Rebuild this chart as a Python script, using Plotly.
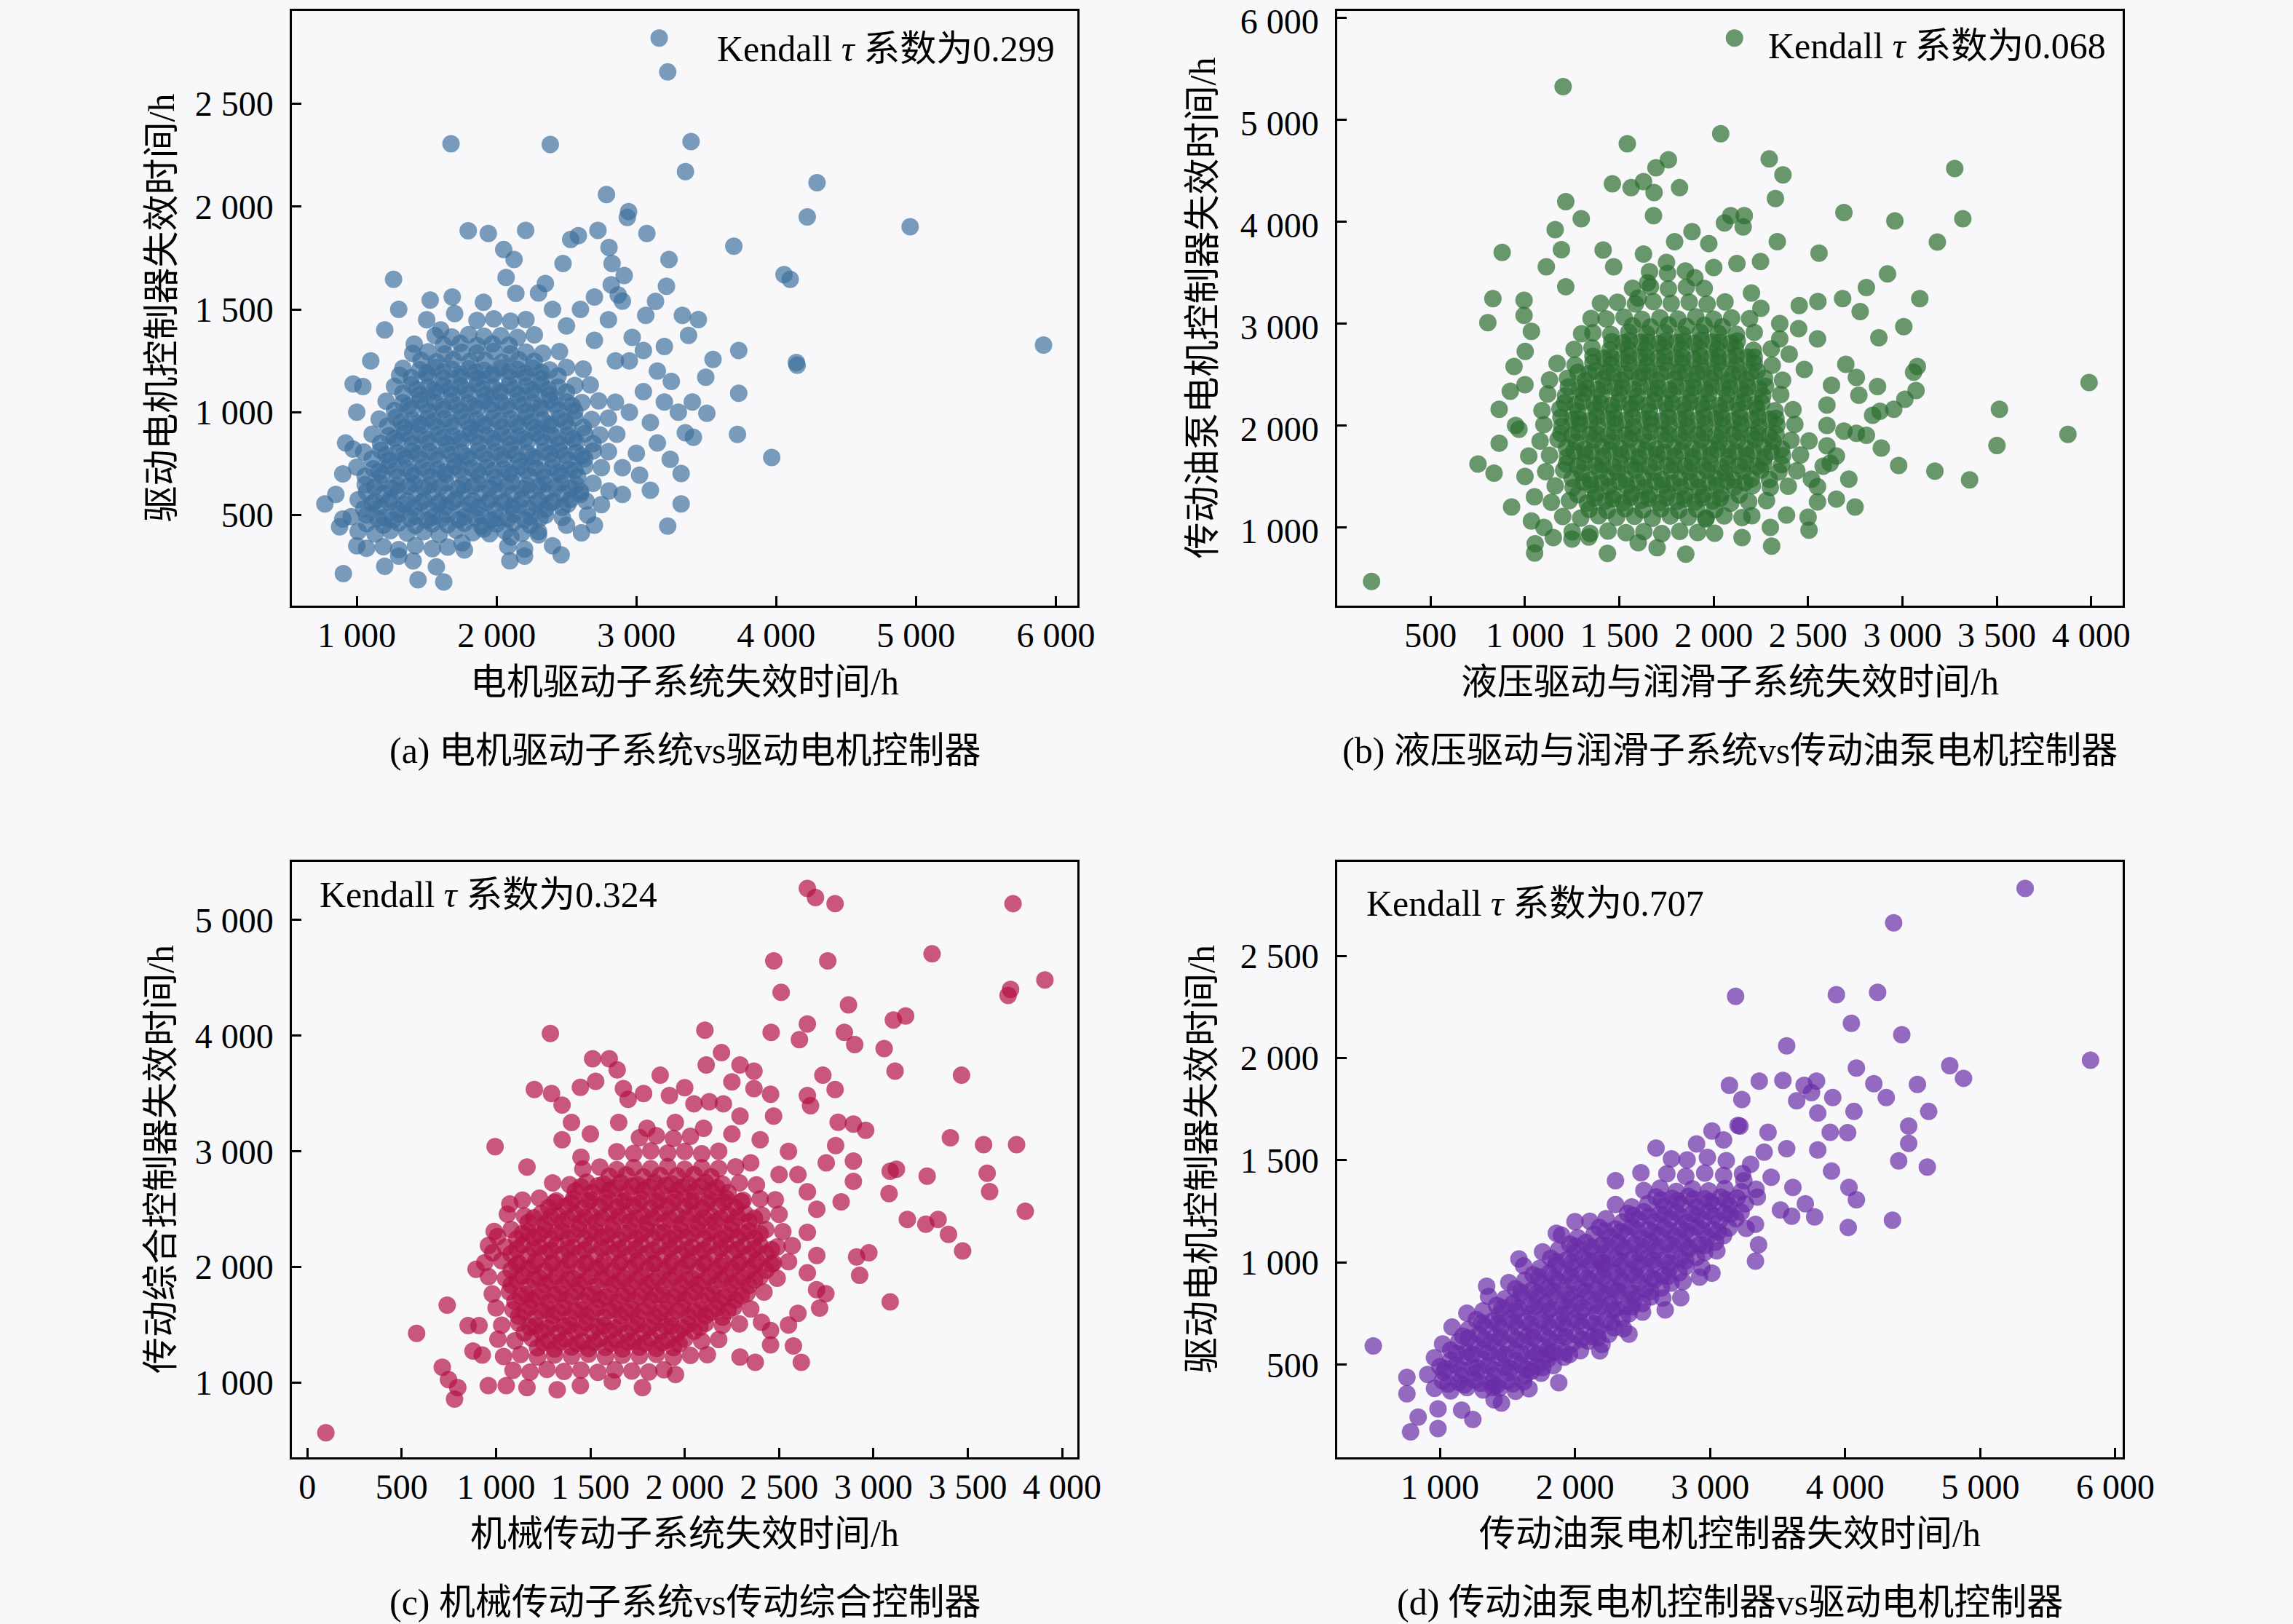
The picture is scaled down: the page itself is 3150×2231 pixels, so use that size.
import plotly.graph_objects as go

# ---------------- data ----------------
# (a) 电机驱动子系统 vs 驱动电机控制器
A_CORE = [
(1070,338),(1190,346),(1300,332),(1420,350),(1540,336),(1650,344),(1770,330),(2080,348),(2200,334),
(1010,420),(1130,408),(1240,424),(1360,412),(1480,418),(1590,405),(1710,426),(1830,414),(1950,409),(2060,422),(2180,411),(2300,419),
(960,492),(1070,500),(1190,487),(1300,505),(1420,494),(1540,489),(1650,502),(1770,491),(1890,498),(2000,486),(2120,503),(2240,493),(2350,499),(2470,488),
(1010,574),(1130,566),(1240,579),(1360,568),(1480,572),(1590,563),(1710,577),(1830,569),(1950,575),(2060,564),(2180,578),(2300,570),(2410,565),(2530,576),(2640,568),
(1060,648),(1170,655),(1290,644),(1410,652),(1520,646),(1640,657),(1760,645),(1870,653),(1990,649),(2110,658),(2220,643),(2340,651),(2460,656),(2570,647),(2690,654),
(1000,733),(1120,725),(1230,736),(1350,728),(1470,731),(1580,722),(1700,737),(1820,729),(1930,734),(2050,724),(2170,735),(2280,727),(2400,732),(2520,723),(2630,738),(2750,730),
(1050,806),(1170,814),(1290,803),(1400,811),(1520,808),(1640,816),(1750,804),(1870,812),(1990,807),(2100,815),(2220,802),(2340,810),(2450,813),(2570,805),(2690,811),(2800,808),
(1110,893),(1230,886),(1340,897),(1460,889),(1580,892),(1690,884),(1810,896),(1930,888),(2040,894),(2160,885),(2280,898),(2390,890),(2510,887),(2630,895),(2740,889),(2860,893),
(1160,966),(1280,974),(1400,963),(1510,971),(1630,968),(1750,976),(1860,964),(1980,972),(2100,967),(2210,975),(2330,962),(2450,970),(2560,973),(2680,965),(2800,971),
(1210,1053),(1330,1046),(1450,1057),(1560,1049),(1680,1052),(1800,1044),(1910,1056),(2030,1048),(2150,1054),(2260,1045),(2380,1058),(2500,1050),(2610,1047),(2730,1055),(2850,1049),
(1270,1126),(1390,1134),(1510,1123),(1620,1131),(1740,1128),(1860,1136),(1970,1124),(2090,1132),(2210,1127),(2320,1135),(2440,1122),(2560,1130),(2670,1133),
(1330,1213),(1450,1206),(1560,1217),(1680,1209),(1800,1212),(1910,1204),(2030,1216),(2150,1208),(2260,1214),(2380,1205),(2500,1218),(2620,1210),
(1400,1286),(1510,1294),(1630,1283),(1750,1291),(1860,1288),(1980,1296),(2100,1284),(2210,1292),(2330,1287),(2450,1295),
(1560,1373),(1680,1366),(1800,1377),(1910,1369),(2030,1372),(2150,1364),(2270,1376),
(1860,1446),(1980,1454),(2100,1443),(2210,1451),
]
A_DENSE = [
(1070,458),(1190,451),(1300,462),(1420,449),(1540,457),(1650,453),(1770,460),(1890,448),(2000,456),(2120,463),(2240,450),
(1050,530),(1170,538),(1290,527),(1410,535),(1520,529),(1640,540),(1760,531),(1870,536),(1990,526),(2110,539),(2230,532),(2350,528),(2470,537),
(1070,612),(1190,605),(1300,616),(1420,608),(1540,611),(1650,603),(1770,615),(1890,607),(2010,613),(2120,604),(2240,617),(2360,609),(2480,606),(2600,614),
(1060,688),(1180,695),(1290,684),(1410,692),(1530,686),(1640,697),(1760,689),(1880,693),(1990,683),(2110,696),(2230,690),(2340,685),(2460,694),(2580,687),
(1110,772),(1230,765),(1350,776),(1460,768),(1580,771),(1700,763),(1810,775),(1930,767),(2050,773),(2160,764),(2280,777),(2400,769),(2510,766),(2630,774),
(1170,848),(1290,855),(1400,844),(1520,852),(1640,846),(1750,857),(1870,849),(1990,853),(2100,843),(2220,856),(2340,850),(2450,845),(2570,854),(2690,847),
(1220,932),(1340,925),(1460,936),(1570,928),(1690,931),(1810,923),(1920,935),(2040,927),(2160,933),(2270,924),(2390,937),(2510,929),(2620,926),
(1270,1008),(1390,1015),(1510,1004),(1620,1012),(1740,1006),(1860,1017),(1970,1009),(2090,1013),(2210,1003),(2320,1016),(2440,1010),(2560,1005),
(1330,1092),(1450,1085),(1570,1096),(1680,1088),(1800,1091),(1920,1083),(2030,1095),(2150,1087),(2270,1093),(2380,1084),(2500,1097),
(1390,1168),(1510,1175),(1620,1164),(1740,1172),(1860,1166),(1970,1177),(2090,1169),(2210,1173),(2320,1163),(2440,1176),
(1460,1252),(1570,1245),(1690,1256),(1810,1248),(1920,1251),(2040,1243),(2160,1255),(2270,1247),
(1620,1328),(1740,1335),(1860,1324),(1970,1332),(2090,1326),
]
A_INNER = [
(1150,482),(1260,476),(1380,485),(1500,474),(1610,483),(1730,478),(1850,486),(1960,475),(2080,481),(2200,477),(2310,484),
(1110,556),(1230,562),(1340,551),(1460,559),(1580,554),(1690,563),(1810,552),(1930,558),(2040,561),(2160,550),(2280,557),(2390,560),(2510,553),
(1130,636),(1250,630),(1370,640),(1480,633),(1600,638),(1720,629),(1830,641),(1950,632),(2070,637),(2180,628),(2300,639),(2420,634),(2530,631),
(1160,712),(1280,718),(1390,707),(1510,715),(1630,709),(1740,720),(1860,711),(1980,716),(2090,706),(2210,719),(2330,713),(2440,708),(2560,717),
(1210,793),(1330,787),(1440,797),(1560,790),(1680,795),(1790,786),(1910,798),(2030,789),(2140,794),(2260,785),(2380,796),(2490,791),(2610,788),
(1270,873),(1390,879),(1500,868),(1620,876),(1740,870),(1850,881),(1970,872),(2090,877),(2200,867),(2320,880),(2440,874),(2550,869),
(1320,951),(1440,945),(1550,955),(1670,948),(1790,953),(1900,944),(2020,956),(2140,947),(2250,952),(2370,943),(2490,954),
(1370,1031),(1490,1037),(1610,1026),(1720,1034),(1840,1028),(1960,1039),(2070,1030),(2190,1035),(2310,1025),(2420,1038),(2540,1032),
(1430,1111),(1550,1105),(1670,1115),(1780,1108),(1900,1113),(2020,1104),(2130,1116),(2250,1107),(2370,1112),
(1500,1190),(1620,1196),(1740,1185),(1850,1193),(1970,1187),(2090,1198),(2200,1189),(2320,1194),
]
A_SPREAD = [
(3163,2820),(3224,2655),(1674,2306),(2384,2302),(3391,2316),(3351,2170),(4292,2116),(2786,2059),(2944,1976),(2935,1947),
(4222,1950),(4958,1902),(1797,1883),(1941,1869),(2208,1884),(2725,1884),(3075,1869),(3697,1807),(3233,1743),(4056,1669),
(4100,1646),(1263,1646),(3215,1613),(5912,1327),(3732,1300),(4144,1242),(4150,1228),(3732,1092),(3723,892),(3968,780),
(3320,702),(3320,554),(3224,446),(2462,306),(2095,277),(904,215),(1438,185),(1622,174),(1569,248),(1403,277),
(772,554),(877,442),(974,820),(974,1137),(1044,1125),(1306,1180),(1411,1331),(1525,1545),(1683,1560),(1906,1535),
(2051,1791),(2125,1743),(2585,1859),(2475,1723),(2804,1801),(2826,1723),(2913,1665),(2349,1626),(2068,1655),(2138,1578),
(3137,1539),(3067,1471),(3329,1471),(3443,1451),(3373,1374),(2970,1364),(3548,1257),(3496,1170),(3504,995),(3408,878),
(3242,771),(3023,694),(2804,617),(2651,500),(2607,413),(2300,403),(2103,393),(1753,364),(1906,432),
(2950,1000),(3050,1100),(3150,1200),(3250,1150),(3100,950),(3200,1050),(3300,1000),(3400,1050),(3350,900),(3150,850),
(3000,800),(2950,1250),(3050,1300),(3200,1320),(2700,1350),(2800,1450),(2600,1500),(2500,1420),(2400,1500),(2300,1580),
(2700,1560),(2900,1540),(2850,1250),(2900,730),(2900,600),(2750,550),(2600,600),(1200,1400),(1300,1500),(1500,1450),
(1700,1480),(1600,1400),(1100,1250),(1000,1000),(900,700),(920,850),(850,600),(900,480),(1000,350),(1200,250),
(1300,300),(2200,300),(2400,350),(2500,450),(2700,450),(3100,620),(2530,1840),(2820,1620),(2870,1570),
]

# (b) 液压驱动与润滑子系统 vs 传动油泵电机控制器
B_CORE = [
(1250,958),(1345,942),(1440,965),(1535,948),(1630,960),(1725,940),(1820,962),(1915,951),(2005,944),
(1200,1108),(1295,1092),(1390,1115),(1485,1098),(1580,1110),(1675,1090),(1770,1112),(1865,1101),(1960,1094),(2055,1113),(2150,1097),
(1140,1246),(1235,1262),(1330,1240),(1425,1257),(1520,1244),(1615,1265),(1710,1242),(1805,1255),(1900,1248),(1995,1260),(2090,1238),(2185,1252),(2280,1263),
(1160,1408),(1255,1392),(1350,1415),(1445,1398),(1540,1410),(1635,1390),(1730,1412),(1825,1401),(1920,1394),(2015,1413),(2110,1397),(2205,1409),(2300,1391),(2395,1404),
(1110,1546),(1205,1562),(1300,1540),(1395,1557),(1490,1544),(1585,1565),(1680,1542),(1775,1555),(1870,1548),(1965,1560),(2060,1538),(2155,1552),(2250,1563),(2345,1545),(2440,1556),
(1130,1708),(1225,1692),(1320,1715),(1415,1698),(1510,1710),(1605,1690),(1700,1712),(1795,1701),(1890,1694),(1985,1713),(2080,1697),(2175,1709),(2270,1691),(2365,1704),(2460,1711),
(1080,1846),(1175,1862),(1270,1840),(1365,1857),(1460,1844),(1555,1865),(1650,1842),(1745,1855),(1840,1848),(1935,1860),(2030,1838),(2125,1852),(2220,1863),(2315,1845),(2410,1856),(2505,1849),
(1100,2008),(1195,1992),(1290,2015),(1385,1998),(1480,2010),(1575,1990),(1670,2012),(1765,2001),(1860,1994),(1955,2013),(2050,1997),(2145,2009),(2240,1991),(2335,2004),(2430,2011),
(1090,2146),(1185,2162),(1280,2140),(1375,2157),(1470,2144),(1565,2165),(1660,2142),(1755,2155),(1850,2148),(1945,2160),(2040,2138),(2135,2152),(2230,2163),(2325,2145),(2420,2156),
(1120,2308),(1215,2292),(1310,2315),(1405,2298),(1500,2310),(1595,2290),(1690,2312),(1785,2301),(1880,2294),(1975,2313),(2070,2297),(2165,2309),(2260,2291),(2355,2304),
(1130,2446),(1225,2462),(1320,2440),(1415,2457),(1510,2444),(1605,2465),(1700,2442),(1795,2455),(1890,2448),(1985,2460),(2080,2438),(2175,2452),(2270,2463),(2365,2445),
(1170,2608),(1265,2592),(1360,2615),(1455,2598),(1550,2610),(1645,2590),(1740,2612),(1835,2601),(1930,2594),(2025,2613),(2120,2597),(2215,2609),(2310,2591),
(1260,2746),(1355,2762),(1450,2740),(1545,2757),(1640,2744),(1735,2765),(1830,2742),(1925,2755),(2020,2748),(2115,2760),(2210,2738),(2305,2752),
(1360,2908),(1455,2892),(1550,2915),(1645,2898),(1740,2910),(1835,2890),(1930,2912),(2025,2901),(2120,2894),(2215,2913),
(1430,3046),(1525,3062),(1620,3040),(1715,3057),(1810,3044),(1905,3065),(2000,3042),(2095,3055),(2190,3048),
(1490,3208),(1585,3192),(1680,3215),(1775,3198),(1870,3210),(1965,3190),(2060,3212),
(1570,3346),(1665,3362),(1760,3340),(1855,3357),(1950,3344),
(1660,3508),(1755,3492),(1850,3515),
]
B_DENSE = [
(1340,1178),(1435,1166),(1530,1185),(1625,1171),(1720,1182),(1815,1168),(1910,1180),(2005,1173),
(1280,1322),(1375,1334),(1470,1318),(1565,1330),(1660,1325),(1755,1337),(1850,1316),(1945,1328),(2040,1331),(2135,1320),
(1250,1478),(1345,1466),(1440,1485),(1535,1471),(1630,1482),(1725,1468),(1820,1480),(1915,1473),(2010,1484),(2105,1469),(2200,1477),(2295,1470),
(1220,1622),(1315,1634),(1410,1618),(1505,1630),(1600,1625),(1695,1637),(1790,1616),(1885,1628),(1980,1631),(2075,1620),(2170,1633),(2265,1624),(2360,1617),
(1220,1778),(1315,1766),(1410,1785),(1505,1771),(1600,1782),(1695,1768),(1790,1780),(1885,1773),(1980,1784),(2075,1769),(2170,1777),(2265,1783),(2360,1770),
(1190,1922),(1285,1934),(1380,1918),(1475,1930),(1570,1925),(1665,1937),(1760,1916),(1855,1928),(1950,1931),(2045,1920),(2140,1933),(2235,1924),(2330,1917),
(1190,2078),(1285,2066),(1380,2085),(1475,2071),(1570,2082),(1665,2068),(1760,2080),(1855,2073),(1950,2084),(2045,2069),(2140,2077),(2235,2083),(2330,2070),
(1210,2222),(1305,2234),(1400,2218),(1495,2230),(1590,2225),(1685,2237),(1780,2216),(1875,2228),(1970,2231),(2065,2220),(2160,2233),(2255,2224),
(1230,2378),(1325,2366),(1420,2385),(1515,2371),(1610,2382),(1705,2368),(1800,2380),(1895,2373),(1990,2384),(2085,2369),(2180,2377),(2275,2383),
(1280,2522),(1375,2534),(1470,2518),(1565,2530),(1660,2525),(1755,2537),(1850,2516),(1945,2528),(2040,2531),(2135,2520),(2230,2533),
(1360,2678),(1455,2666),(1550,2685),(1645,2671),(1740,2682),(1835,2668),(1930,2680),(2025,2673),(2120,2684),(2215,2669),
(1460,2822),(1555,2834),(1650,2818),(1745,2830),(1840,2825),(1935,2837),(2030,2816),(2125,2828),
(1570,2978),(1665,2966),(1760,2985),(1855,2971),(1950,2982),(2045,2968),
]
B_INNER = [
(1370,1290),(1465,1282),(1560,1297),(1655,1286),(1750,1294),(1845,1280),(1940,1292),(2035,1288),
(1310,1445),(1405,1438),(1500,1452),(1595,1441),(1690,1449),(1785,1435),(1880,1447),(1975,1443),(2070,1454),(2165,1439),
(1280,1600),(1375,1607),(1470,1593),(1565,1604),(1660,1596),(1755,1610),(1850,1598),(1945,1602),(2040,1591),(2135,1606),(2230,1599),
(1260,1750),(1355,1743),(1450,1757),(1545,1746),(1640,1754),(1735,1740),(1830,1752),(1925,1748),(2020,1759),(2115,1744),(2210,1751),(2305,1745),
(1250,1905),(1345,1912),(1440,1898),(1535,1909),(1630,1901),(1725,1915),(1820,1903),(1915,1907),(2010,1896),(2105,1911),(2200,1904),(2295,1900),
(1250,2055),(1345,2048),(1440,2062),(1535,2051),(1630,2059),(1725,2045),(1820,2057),(1915,2053),(2010,2064),(2105,2049),(2200,2056),(2295,2061),
(1270,2205),(1365,2212),(1460,2198),(1555,2209),(1650,2201),(1745,2215),(1840,2203),(1935,2207),(2030,2196),(2125,2211),(2220,2204),
(1290,2360),(1385,2353),(1480,2367),(1575,2356),(1670,2364),(1765,2350),(1860,2362),(1955,2358),(2050,2369),(2145,2354),(2240,2361),
(1340,2510),(1435,2517),(1530,2503),(1625,2514),(1720,2506),(1815,2520),(1910,2508),(2005,2512),(2100,2501),(2195,2516),
(1420,2660),(1515,2653),(1610,2667),(1705,2656),(1800,2664),(1895,2650),(1990,2662),(2085,2658),(2180,2669),
(1520,2810),(1615,2817),(1710,2803),(1805,2814),(1900,2806),(1995,2820),(2090,2808),
]
B_SPREAD = [
(2110,5800),(1202,5323),(2037,4861),(1542,4763),(1760,4606),(1694,4528),(2294,4614),(2367,4457),(3277,4520),(1463,4371),
(1562,4332),(1628,4391),(1684,4285),(1819,4332),(1216,4195),(2327,4226),(1298,4027),(1681,4058),(2690,4089),(2960,4007),
(3320,4027),(2090,4058),(2162,4058),(2057,3987),(2156,3948),(1160,3921),(1885,3901),(3185,3800),(879,3698),(1193,3725),
(1414,3721),(1628,3682),(1793,3803),(1974,3784),(2337,3803),(2558,3690),(1113,3557),(1470,3557),(2123,3588),(2248,3608),
(2921,3486),(1216,3361),(830,3244),(995,3228),(2809,3353),(3092,3244),(2683,3244),(2552,3216),(2453,3177),(2776,3118),
(803,3009),(3007,2969),(2875,2860),(995,3079),(1034,2922),(1001,2727),(942,2578),(3079,2578),(3059,2523),(3989,2421),
(2756,2472),(2868,2382),(2769,2296),(2624,2394),(3072,2343),(3013,2257),(2954,2159),(2881,2139),(2842,2100),(3514,2159),
(3501,1803),(3877,1912),(2690,1944),(2756,1924),(2809,1904),(2888,1779),(2980,1607),(3172,1552),(3356,1466),(2749,1200),
(2505,973),(2307,816),(2202,1114),(1852,738),(1437,745),(1051,749),(1054,840),(1034,1063),(929,1200),(836,1532),
(751,1622),(863,1826),(863,2159),(922,2335),(968,1963),(187,471),(1249,886),(1338,906),(1958,1082),(2386,1121),
(2650,1278),(2617,1630),(2716,1474),(2518,1474),
(2400,2700),(2480,2550),(2550,2850),(2350,3000),(2250,3150),(2200,3300),(1400,3200),(1350,3050),(1300,2900),(1650,3400),
(1900,3450),(2000,3550),(1750,3600),(1600,3250),(2600,2200),(2600,1800),(2580,1600),(2600,2000),(2550,1400),(1000,1500),
(1000,2400),(1020,1700),(950,2000),(1050,1300),(1100,1000),(1150,900),(2300,1000),(2150,900),(1600,850),(1700,800),
(2500,1100),(2550,1250),(2650,1700),(2700,2600),(2350,2850),(2450,2950),
]

# (c) 机械传动子系统 vs 传动综合控制器
C_CORE = [
(1090,1108),(1180,1092),(1270,1115),(1360,1098),(1450,1110),(1540,1090),(1630,1112),(1720,1101),(1810,1094),(1890,1113),
(1040,1228),(1130,1245),(1220,1222),(1310,1240),(1400,1230),(1490,1248),(1580,1225),(1670,1238),(1760,1232),(1850,1246),(1940,1221),(2030,1236),(2120,1243),
(1010,1377),(1100,1362),(1190,1384),(1280,1366),(1370,1379),(1460,1360),(1550,1381),(1640,1370),(1730,1363),(1820,1383),(1910,1367),(2000,1378),(2090,1361),(2180,1374),
(1030,1498),(1120,1515),(1210,1492),(1300,1510),(1390,1500),(1480,1518),(1570,1495),(1660,1508),(1750,1502),(1840,1516),(1930,1491),(2020,1506),(2110,1513),(2200,1497),(2290,1509),
(1000,1647),(1090,1632),(1180,1654),(1270,1636),(1360,1649),(1450,1630),(1540,1651),(1630,1640),(1720,1633),(1810,1653),(1900,1637),(1990,1648),(2080,1631),(2170,1644),(2260,1652),(2350,1638),
(980,1768),(1070,1785),(1160,1762),(1250,1780),(1340,1770),(1430,1788),(1520,1765),(1610,1778),(1700,1772),(1790,1786),(1880,1761),(1970,1776),(2060,1783),(2150,1767),(2240,1779),(2330,1771),(2420,1784),
(960,1917),(1050,1902),(1140,1924),(1230,1906),(1320,1919),(1410,1900),(1500,1921),(1590,1910),(1680,1903),(1770,1923),(1860,1907),(1950,1918),(2040,1901),(2130,1914),(2220,1922),(2310,1908),(2400,1916),(2490,1904),
(940,2038),(1030,2055),(1120,2032),(1210,2050),(1300,2040),(1390,2058),(1480,2035),(1570,2048),(1660,2042),(1750,2056),(1840,2031),(1930,2046),(2020,2053),(2110,2037),(2200,2049),(2290,2041),(2380,2054),(2470,2036),(2550,2047),
(960,2187),(1050,2172),(1140,2194),(1230,2176),(1320,2189),(1410,2170),(1500,2191),(1590,2180),(1680,2173),(1770,2193),(1860,2177),(1950,2188),(2040,2171),(2130,2184),(2220,2192),(2310,2178),(2400,2186),(2490,2174),(2570,2185),
(990,2308),(1080,2325),(1170,2302),(1260,2320),(1350,2310),(1440,2328),(1530,2305),(1620,2318),(1710,2312),(1800,2326),(1890,2301),(1980,2316),(2070,2323),(2160,2307),(2250,2319),(2340,2311),(2430,2324),(2520,2306),
(1060,2457),(1150,2442),(1240,2464),(1330,2446),(1420,2459),(1510,2440),(1600,2461),(1690,2450),(1780,2443),(1870,2463),(1960,2447),(2050,2458),(2140,2441),(2230,2454),(2320,2462),(2410,2448),(2500,2456),
(1140,2578),(1230,2595),(1320,2572),(1410,2590),(1500,2580),(1590,2598),(1680,2575),(1770,2588),(1860,2582),(1950,2596),(2040,2571),(2130,2586),(2220,2593),(2310,2577),(2400,2589),(2480,2581),
(1300,2727),(1390,2712),(1480,2734),(1570,2716),(1660,2729),(1750,2710),(1840,2731),(1930,2720),(2020,2713),(2110,2733),(2200,2717),(2290,2728),(2380,2711),
(1460,2848),(1550,2865),(1640,2842),(1730,2860),(1820,2850),(1910,2868),(2000,2845),(2090,2858),(2180,2852),(2270,2866),
(1640,2997),(1730,2982),(1820,3004),(1910,2986),(2000,2999),(2090,2980),(2180,3001),
(1760,3118),(1850,3135),(1940,3112),(2030,3130),
]
C_DENSE = [
(1220,1303),(1310,1292),(1400,1309),(1490,1296),(1580,1306),(1670,1294),(1760,1308),(1850,1298),(1940,1305),
(1150,1434),(1240,1445),(1330,1430),(1420,1441),(1510,1437),(1600,1448),(1690,1429),(1780,1440),(1870,1443),(1960,1432),(2050,1446),
(1120,1575),(1210,1564),(1300,1581),(1390,1568),(1480,1578),(1570,1566),(1660,1580),(1750,1570),(1840,1577),(1930,1563),(2020,1574),(2110,1579),(2200,1567),
(1100,1704),(1190,1715),(1280,1700),(1370,1711),(1460,1707),(1550,1718),(1640,1699),(1730,1710),(1820,1713),(1910,1702),(2000,1716),(2090,1706),(2180,1701),(2270,1714),
(1080,1845),(1170,1834),(1260,1851),(1350,1838),(1440,1848),(1530,1836),(1620,1850),(1710,1840),(1800,1847),(1890,1833),(1980,1844),(2070,1849),(2160,1837),(2250,1852),(2340,1841),
(1080,1974),(1170,1985),(1260,1970),(1350,1981),(1440,1977),(1530,1988),(1620,1969),(1710,1980),(1800,1983),(1890,1972),(1980,1986),(2070,1976),(2160,1971),(2250,1984),(2340,1979),(2430,1973),
(1080,2115),(1170,2104),(1260,2121),(1350,2108),(1440,2118),(1530,2106),(1620,2120),(1710,2110),(1800,2117),(1890,2103),(1980,2114),(2070,2119),(2160,2107),(2250,2122),(2340,2111),(2430,2116),
(1110,2244),(1200,2255),(1290,2240),(1380,2251),(1470,2247),(1560,2258),(1650,2239),(1740,2250),(1830,2253),(1920,2242),(2010,2256),(2100,2246),(2190,2241),(2280,2254),(2370,2249),
(1170,2385),(1260,2374),(1350,2391),(1440,2378),(1530,2388),(1620,2376),(1710,2390),(1800,2380),(1890,2387),(1980,2373),(2070,2384),(2160,2389),(2250,2377),(2340,2392),
(1280,2514),(1370,2525),(1460,2510),(1550,2521),(1640,2517),(1730,2528),(1820,2509),(1910,2520),(2000,2523),(2090,2512),(2180,2526),(2270,2516),
(1420,2655),(1510,2644),(1600,2661),(1690,2648),(1780,2658),(1870,2646),(1960,2660),(2050,2650),(2140,2657),(2230,2643),
(1600,2784),(1690,2795),(1780,2780),(1870,2791),(1960,2787),(2050,2798),(2140,2779),
]
C_INNER = [
(1250,1345),(1340,1352),(1430,1339),(1520,1349),(1610,1342),(1700,1355),(1790,1344),(1880,1348),(1970,1338),
(1180,1480),(1270,1473),(1360,1487),(1450,1476),(1540,1484),(1630,1471),(1720,1482),(1810,1478),(1900,1489),(1990,1474),(2080,1481),
(1150,1615),(1240,1622),(1330,1608),(1420,1619),(1510,1611),(1600,1625),(1690,1613),(1780,1617),(1870,1606),(1960,1621),(2050,1614),(2140,1609),(2230,1623),
(1130,1750),(1220,1743),(1310,1757),(1400,1746),(1490,1754),(1580,1740),(1670,1752),(1760,1748),(1850,1759),(1940,1744),(2030,1751),(2120,1756),(2210,1741),(2300,1753),
(1110,1885),(1200,1892),(1290,1878),(1380,1889),(1470,1881),(1560,1895),(1650,1883),(1740,1887),(1830,1876),(1920,1891),(2010,1884),(2100,1879),(2190,1893),(2280,1882),(2370,1888),
(1110,2020),(1200,2013),(1290,2027),(1380,2016),(1470,2024),(1560,2010),(1650,2022),(1740,2018),(1830,2029),(1920,2014),(2010,2021),(2100,2026),(2190,2011),(2280,2023),(2370,2017),(2460,2025),
(1110,2155),(1200,2162),(1290,2148),(1380,2159),(1470,2151),(1560,2165),(1650,2153),(1740,2157),(1830,2146),(1920,2161),(2010,2154),(2100,2149),(2190,2163),(2280,2152),(2370,2158),(2460,2150),
(1140,2290),(1230,2283),(1320,2297),(1410,2286),(1500,2294),(1590,2280),(1680,2292),(1770,2288),(1860,2299),(1950,2284),(2040,2291),(2130,2296),(2220,2281),(2310,2293),(2400,2287),
(1200,2425),(1290,2432),(1380,2418),(1470,2429),(1560,2421),(1650,2435),(1740,2423),(1830,2427),(1920,2416),(2010,2431),(2100,2424),(2190,2419),(2280,2433),(2370,2422),
(1310,2560),(1400,2553),(1490,2567),(1580,2556),(1670,2564),(1760,2550),(1850,2562),(1940,2558),(2030,2569),(2120,2554),(2210,2561),(2300,2566),
(1450,2695),(1540,2702),(1630,2688),(1720,2699),(1810,2691),(1900,2705),(1990,2693),(2080,2697),(2170,2686),
]
C_SPREAD = [
(98,569),(579,1427),(741,1671),(715,1134),(748,1028),(797,958),(780,859),(995,3041),(1164,2864),(1073,2546),
(1288,4019),(1203,3535),(1294,3500),(1512,3800),(1600,3800),(1642,3704),(1447,3553),(1528,3606),(1675,3542),(1782,3500),
(1870,3658),(1919,3482),(2107,4047),(2114,3747),(2195,3853),(2293,3747),(2367,3694),(2367,3542),(2455,3493),(2049,3411),
(2130,3429),(2205,3411),(2293,3305),(2471,3305),(2458,4029),(2472,4647),(2511,4375),(2650,5272),(2693,5194),(2797,5141),
(2758,4647),(2650,4100),(2608,3966),(2868,4266),(2846,4029),(2901,3923),(3057,3888),(3106,4135),(3171,4170),(3115,3694),
(2732,3658),(2797,3535),(2650,3482),(2667,3394),(3311,4707),(3740,5141),(3727,4400),(3714,4347),(3909,4481),(3467,3658),
(3408,3118),(3584,3058),(3759,3058),(3603,2811),(3616,2652),(3805,2483),(3285,2786),(3089,2829),(3122,2846),(3083,2635),
(3180,2412),(3278,2370),(3343,2412),(3398,2282),(3473,2140),(3089,1699),(2927,1929),(2976,2123),(2911,2087),(2813,3252),
(2894,3235),(2959,3182),(2894,2917),(2894,2741),(2829,2564),(2699,1805),(2748,1770),(2715,1646),(2618,1177),(2576,1318),
(2455,1328),(2374,1177),(2293,1222),(2407,1523),(2455,1452),(1951,1071),(1776,958),(1616,1011),(1447,975),(1324,940),
(1164,958),(1054,975),(959,975),(878,1275),(927,1240),(852,1494),(910,1494),(894,1981),(1008,2264),(982,2123),
(1400,3250),(1500,3150),(1350,3100),(1450,2950),(1650,3250),(1800,3200),(1950,3250),(2100,3200),(2250,3150),(2400,3100),
(2550,3000),(2600,2800),(2650,2650),(2700,2500),(2650,2300),(2700,2100),(2650,1950),(2600,1600),(2550,1500),(2750,2900),
(2800,3050),(2500,2800),(2350,2900),(1350,3400),(1700,3450),(2000,3550),(2250,3600),
]

# (d) 传动油泵电机控制器 vs 驱动电机控制器
D_CORE = [
(960,384),(1080,372),(1200,388),(1320,376),(1440,385),(1560,370),(1660,383),
(910,452),(1030,464),(1150,448),(1270,460),(1390,450),(1510,462),(1630,447),(1750,458),
(960,534),(1080,522),(1200,538),(1320,526),(1440,535),(1560,520),(1680,533),(1800,528),(1920,537),
(1020,602),(1140,614),(1260,598),(1380,610),(1500,600),(1620,612),(1740,597),(1860,608),(1980,603),(2100,615),(2200,599),
(1090,684),(1210,672),(1330,688),(1450,676),(1570,685),(1690,670),(1810,683),(1930,678),(2050,687),(2170,673),(2290,681),(2360,676),
(1200,752),(1320,764),(1440,748),(1560,760),(1680,750),(1800,762),(1920,747),(2040,758),(2160,753),(2280,765),(2400,749),(2500,757),
(1360,834),(1480,822),(1600,838),(1720,826),(1840,835),(1960,820),(2080,833),(2200,828),(2320,837),(2440,823),(2560,831),(2650,826),
(1510,902),(1630,914),(1750,898),(1870,910),(1990,900),(2110,912),(2230,897),(2350,908),(2470,903),(2590,915),(2710,899),(2800,907),
(1620,984),(1740,972),(1860,988),(1980,976),(2100,985),(2220,970),(2340,983),(2460,978),(2580,987),(2700,973),(2820,981),(2940,976),
(1760,1052),(1880,1064),(2000,1048),(2120,1060),(2240,1050),(2360,1062),(2480,1047),(2600,1058),(2720,1053),(2840,1065),(2960,1049),(3050,1057),
(1900,1134),(2020,1122),(2140,1138),(2260,1126),(2380,1135),(2500,1120),(2620,1133),(2740,1128),(2860,1137),(2980,1123),(3100,1131),
(2110,1202),(2230,1214),(2350,1198),(2470,1210),(2590,1200),(2710,1212),(2830,1197),(2950,1208),(3070,1203),(3190,1215),
(2300,1284),(2420,1272),(2540,1288),(2660,1276),(2780,1285),(2900,1270),(3020,1283),(3140,1278),(3260,1287),
(2510,1352),(2630,1364),(2750,1348),(2870,1360),(2990,1350),(3110,1362),(3230,1347),(3340,1358),
(2680,1434),(2820,1422),(2960,1438),(3100,1426),(3240,1435),
(2830,1502),(2980,1514),(3120,1498),
]
D_DENSE = [
(1020,421),(1140,414),(1260,424),(1380,412),(1500,420),(1620,416),
(1000,490),(1120,498),(1240,487),(1360,495),(1480,489),(1600,500),(1720,492),(1840,496),
(1080,571),(1200,564),(1320,574),(1440,562),(1560,570),(1680,566),(1800,573),(1920,561),(2040,569),
(1170,640),(1290,648),(1410,637),(1530,645),(1650,639),(1770,650),(1890,642),(2010,646),(2130,636),(2250,649),
(1270,721),(1390,714),(1510,724),(1630,712),(1750,720),(1870,716),(1990,723),(2110,711),(2230,719),(2350,725),
(1420,790),(1540,798),(1660,787),(1780,795),(1900,789),(2020,800),(2140,792),(2260,796),(2380,786),(2500,799),
(1560,871),(1680,864),(1800,874),(1920,862),(2040,870),(2160,866),(2280,873),(2400,861),(2520,869),(2640,875),
(1690,940),(1810,948),(1930,937),(2050,945),(2170,939),(2290,950),(2410,942),(2530,946),(2650,936),(2770,949),
(1820,1021),(1940,1014),(2060,1024),(2180,1012),(2300,1020),(2420,1016),(2540,1023),(2660,1011),(2780,1019),(2900,1025),
(1960,1090),(2080,1098),(2200,1087),(2320,1095),(2440,1089),(2560,1100),(2680,1092),(2800,1096),(2920,1086),(3040,1099),
(2180,1171),(2300,1164),(2420,1174),(2540,1162),(2660,1170),(2780,1166),(2900,1173),(3020,1161),(3140,1169),
(2390,1240),(2510,1248),(2630,1237),(2750,1245),(2870,1239),(2990,1250),(3110,1242),(3230,1246),
(2600,1321),(2720,1314),(2840,1324),(2960,1312),(3080,1320),(3200,1316),
]
D_INNER = [
(1060,405),(1180,401),(1300,409),(1420,399),(1540,407),
(1040,480),(1160,476),(1280,484),(1400,474),(1520,482),(1640,478),(1760,486),
(1120,555),(1240,551),(1360,559),(1480,549),(1600,557),(1720,553),(1840,561),(1960,550),
(1210,630),(1330,626),(1450,634),(1570,624),(1690,632),(1810,628),(1930,636),(2050,625),(2170,633),
(1310,705),(1430,701),(1550,709),(1670,699),(1790,707),(1910,703),(2030,711),(2150,700),(2270,708),
(1460,780),(1580,776),(1700,784),(1820,774),(1940,782),(2060,778),(2180,786),(2300,775),(2420,783),
(1600,855),(1720,851),(1840,859),(1960,849),(2080,857),(2200,853),(2320,861),(2440,850),(2560,858),
(1730,930),(1850,926),(1970,934),(2090,924),(2210,932),(2330,928),(2450,936),(2570,925),(2690,933),
(1860,1005),(1980,1001),(2100,1009),(2220,999),(2340,1007),(2460,1003),(2580,1011),(2700,1000),(2820,1008),
(2000,1080),(2120,1076),(2240,1084),(2360,1074),(2480,1082),(2600,1078),(2720,1086),(2840,1075),(2960,1083),
(2220,1155),(2340,1151),(2460,1159),(2580,1149),(2700,1157),(2820,1153),(2940,1161),(3060,1150),
(2430,1230),(2550,1226),(2670,1234),(2790,1224),(2910,1232),(3030,1228),(3150,1236),
(2640,1305),(2760,1301),(2880,1309),(3000,1299),(3120,1307),
]
D_SPREAD = [
(5332,2830),(4359,2662),(3189,2302),(3935,2310),(4240,2322),(4046,2170),(4419,2114),(3567,2060),(5816,1990),(4774,1963),
(4876,1901),(4083,1951),(4212,1875),(4304,1807),(4535,1871),(4618,1739),(4065,1739),(3143,1867),(3235,1797),(3364,1887),
(3539,1891),(3696,1867),(3788,1887),(3751,1831),(3641,1791),(3908,1807),(3797,1731),(4470,1667),(4470,1583),(3889,1637),
(4018,1635),(4396,1497),(4608,1467),(3899,1447),(3797,1551),(4028,1367),(4083,1307),(4350,1207),(4023,1171),(3774,1223),
(3604,1227),(3521,1257),(3705,1287),(3613,1367),(3452,1417),(3567,1557),(3429,1637),(3221,1667),(3014,1643),(3207,1671),
(2714,1507),(2488,1439),(1862,1143),(1585,1017),(1346,884),(507,592),(756,438),(756,358),(839,244),(783,172),
(986,284),(986,188),(1161,278),(1244,232),(1401,328),(1456,312),(3336,1007),(3359,1087),(3014,948),(3267,1167),
(3336,1187),(2184,568),(1880,412),(1677,468),(1392,388),(2668,768),(2783,828),(2922,928),(3300,1480),(3400,1540),
(3350,1320),(3250,1400),(2900,1580),(3100,1600),(2600,1560),(2200,1000),(2000,1200),(2300,1400),(1800,550),(2400,650),
]

X_TICKS = {
    "a": [1000, 2000, 3000, 4000, 5000, 6000],
    "b": [500, 1000, 1500, 2000, 2500, 3000, 3500, 4000],
    "c": [0, 500, 1000, 1500, 2000, 2500, 3000, 3500, 4000],
    "d": [1000, 2000, 3000, 4000, 5000, 6000],
}
Y_TICKS = {
    "a": [500, 1000, 1500, 2000, 2500],
    "b": [1000, 2000, 3000, 4000, 5000, 6000],
    "c": [1000, 2000, 3000, 4000, 5000],
    "d": [500, 1000, 1500, 2000, 2500],
}
X_TITLES = ["电机驱动子系统失效时间/h", "液压驱动与润滑子系统失效时间/h",
            "机械传动子系统失效时间/h", "传动油泵电机控制器失效时间/h"]
Y_TITLES = ["驱动电机控制器失效时间/h", "传动油泵电机控制器失效时间/h",
            "传动综合控制器失效时间/h", "驱动电机控制器失效时间/h"]
CAPTIONS = ["(a) 电机驱动子系统vs驱动电机控制器", "(b) 液压驱动与润滑子系统vs传动油泵电机控制器",
            "(c) 机械传动子系统vs传动综合控制器", "(d) 传动油泵电机控制器vs驱动电机控制器"]
KENDALL = ["0.299", "0.068", "0.324", "0.707"]


def fmt(v):
    return f"{v:,}".replace(",", " ")


FONT = "Liberation Serif, Noto Sans CJK SC, serif"
W, H = 3150, 2231

panels = [
    dict(key="a", pts=A_SPREAD + A_CORE + A_DENSE + A_INNER, color="#3d6f9c", op=0.68,
         dx=(401, 1480), dy=(15, 832), xr=(536, 6154), yr=(59, 2952),
         ytx=221, kx=1451, ky=67, kanchor="right", yshift=0),
    dict(key="b", pts=B_SPREAD + B_CORE + B_DENSE + B_INNER, color="#2b6e2f", op=0.7,
         dx=(1837, 2916), dy=(15, 832), xr=(5, 4167), yr=(233, 6066),
         ytx=1651, kx=2895, ky=63, kanchor="right", yshift=5),
    dict(key="c", pts=C_SPREAD + C_CORE + C_DENSE + C_INNER, color="#b31245", op=0.7,
         dx=(401, 1480), dy=(1184, 2002), xr=(-82, 4081), yr=(356, 5502),
         ytx=221, kx=437, ky=1229, kanchor="left", yshift=0),
    dict(key="d", pts=D_SPREAD + D_CORE + D_DENSE + D_INNER, color="#6a2ca6", op=0.7,
         dx=(1837, 2916), dy=(1184, 2002), xr=(240, 6054), yr=(47, 2960),
         ytx=1651, kx=1875, ky=1241, kanchor="left", yshift=0),
]

fig = go.Figure()
annotations = []
for i, p in enumerate(panels):
    n = "" if i == 0 else str(i + 1)
    xs = [q[0] for q in p["pts"]]
    ys = [q[1] for q in p["pts"]]
    fig.add_trace(go.Scatter(
        x=xs, y=ys, mode="markers", xaxis="x" + n, yaxis="y" + n,
        marker=dict(size=24, color=p["color"], opacity=p["op"], line=dict(width=0)),
        showlegend=False, hoverinfo="skip"))
    common = dict(showline=True, linecolor="black", linewidth=2.5, mirror=True,
                  ticks="inside", ticklen=13, tickwidth=2.5, tickcolor="black",
                  showgrid=False, zeroline=False, ticklabeloverflow="allow",
                  automargin=False,
                  tickfont=dict(family=FONT, size=48, color="black"))
    xd = [p["dx"][0] / W, p["dx"][1] / W]
    yd = [1 - p["dy"][1] / H, 1 - p["dy"][0] / H]
    fig.update_layout(**{
        "xaxis" + n: dict(domain=xd, range=list(p["xr"]), anchor="y" + n,
                          tickvals=X_TICKS[p["key"]], ticktext=[fmt(v) for v in X_TICKS[p["key"]]],
                          ticklabelstandoff=-3, **common),
        "yaxis" + n: dict(domain=yd, range=list(p["yr"]), anchor="x" + n,
                          tickvals=Y_TICKS[p["key"]], ticktext=[fmt(v) for v in Y_TICKS[p["key"]]],
                          ticklabelstandoff=13, ticklabelshift=p["yshift"], **common),
    })
    cx = (p["dx"][0] + p["dx"][1]) / 2 / W
    cy = (p["dy"][0] + p["dy"][1]) / 2
    bottom = p["dy"][1]
    tf = dict(family=FONT, size=50, color="black")
    annotations += [
        dict(text=X_TITLES[i], x=cx, y=1 - (bottom + 105) / H, xref="paper", yref="paper",
             xanchor="center", yanchor="middle", showarrow=False, font=tf),
        dict(text=CAPTIONS[i], x=cx, y=1 - (bottom + 199) / H, xref="paper", yref="paper",
             xanchor="center", yanchor="middle", showarrow=False, font=tf),
        dict(text=Y_TITLES[i], x=p["ytx"] / W, y=1 - cy / H, xref="paper", yref="paper",
             xanchor="center", yanchor="middle", textangle=-90, showarrow=False, font=tf),
        dict(text="Kendall <i>τ</i> 系数为" + KENDALL[i], x=p["kx"] / W, y=1 - p["ky"] / H,
             xref="paper", yref="paper", xanchor=p["kanchor"], yanchor="middle",
             showarrow=False, font=tf),
    ]

fig.update_layout(width=W, height=H, margin=dict(l=0, r=0, t=0, b=0, autoexpand=False),
                  paper_bgcolor="#f8f8fa", plot_bgcolor="#f8f8fa",
                  annotations=annotations, font=dict(family=FONT))
fig.write_html("out.html", config={"displayModeBar": False},
               post_script="document.body.style.margin='0';document.body.style.overflow='hidden';")
